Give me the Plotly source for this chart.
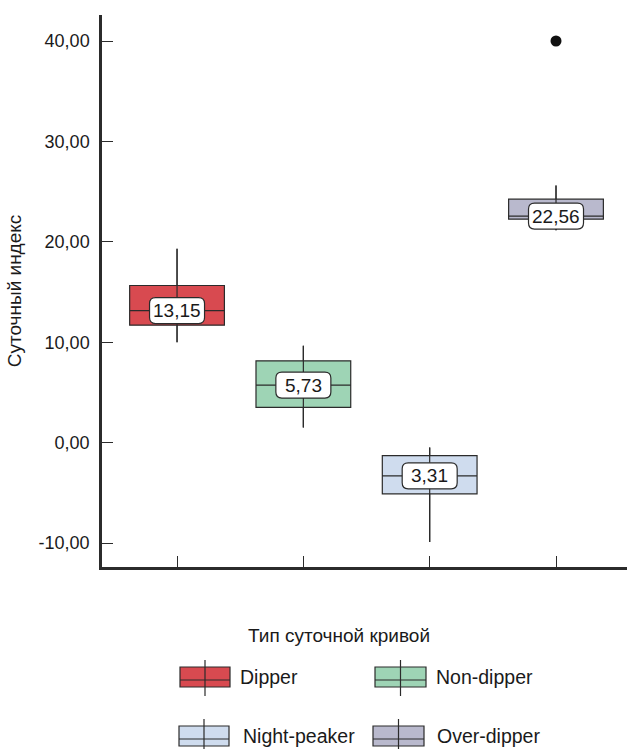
import plotly.graph_objects as go

# ---- data ----
categories = ["Dipper", "Non-dipper", "Night-peaker", "Over-dipper"]
q1 = [11.7, 3.5, -5.1, 22.25]
median = [13.15, 5.73, -3.31, 22.56]
q3 = [15.65, 8.15, -1.3, 24.25]
lower_whisker = [10.0, 1.5, -9.9, 21.15]
upper_whisker = [19.3, 9.65, -0.5, 25.6]
median_labels = ["13,15", "5,73", "3,31", "22,56"]
outlier_cat = ["Over-dipper"]
outlier_val = [40.0]
fill_colors = ["#d84a50", "#9ed4b5", "#cfdcee", "#b9b9cd"]
tick_vals = [-10, 0, 10, 20, 30, 40]
tick_text = ["-10,00", "0,00", "10,00", "20,00", "30,00", "40,00"]
y_title = "Суточный индекс"
legend_title = "Тип суточной кривой"

FONT = "Liberation Sans, Arial, Helvetica, sans-serif"
EDGE = "#2b2b2b"

W, H = 627, 749
ML, MR, MT, MB = 102, 0, 15, 182
PW, PH = W - ML - MR, H - MT - MB


def px(x, y):
    return (x - ML) / PW, (H - MB - y) / PH


fig = go.Figure()

for i, c in enumerate(categories):
    fig.add_trace(go.Box(
        x=[c], q1=[q1[i]], median=[median[i]], q3=[q3[i]],
        lowerfence=[lower_whisker[i]], upperfence=[upper_whisker[i]],
        fillcolor=fill_colors[i], line=dict(color=EDGE, width=1.2),
        whiskerwidth=0, width=0.75, boxpoints=False, showlegend=False,
        name=c,
    ))

for i, c in enumerate(categories):
    fig.add_trace(go.Scatter(
        x=[c, c], y=[lower_whisker[i], upper_whisker[i]], mode="lines",
        line=dict(color=EDGE, width=1.2), showlegend=False, hoverinfo="skip",
    ))

fig.add_trace(go.Scatter(
    x=outlier_cat, y=outlier_val, mode="markers",
    marker=dict(color="#111111", size=11), showlegend=False,
))

# rounded label boxes
w2, h2, r = 27.5, 13, 6
path = (f"M {-w2 + r},{-h2} L {w2 - r},{-h2} Q {w2},{-h2} {w2},{-h2 + r} "
        f"L {w2},{h2 - r} Q {w2},{h2} {w2 - r},{h2} L {-w2 + r},{h2} "
        f"Q {-w2},{h2} {-w2},{h2 - r} L {-w2},{-h2 + r} Q {-w2},{-h2} {-w2 + r},{-h2} Z")
for i, c in enumerate(categories):
    fig.add_shape(type="path", path=path, xref="x", yref="y",
                  xsizemode="pixel", ysizemode="pixel",
                  xanchor=i, yanchor=median[i],
                  fillcolor="white", line=dict(color=EDGE, width=1.2), layer="above")
    fig.add_annotation(x=i, y=median[i], xref="x", yref="y", text=median_labels[i],
                       showarrow=False, yanchor="middle",
                       font=dict(family=FONT, size=19, color="#1a1a1a"))

# custom legend
lt = px(339, 635)
fig.add_annotation(x=lt[0], y=lt[1], xref="paper", yref="paper",
                   text=legend_title, showarrow=False, xanchor="center", yanchor="middle",
                   font=dict(family=FONT, size=19, color="#1a1a1a"))

legend_pos = [(180, 230, 667, 687, 680, 660, 696, 238),
              (375, 426, 667, 687, 680, 660, 696, 434),
              (179, 229, 726, 746, 739, 719, 755, 241),
              (373, 424, 726, 746, 739, 719, 755, 435)]
for i, c in enumerate(categories):
    x0, x1, y0, y1, ym, v0, v1, tx = legend_pos[i]
    a = px(x0, y0); b = px(x1, y1)
    fig.add_shape(type="rect", xref="paper", yref="paper", x0=a[0], x1=b[0], y0=a[1], y1=b[1],
                  fillcolor=fill_colors[i], line=dict(color=EDGE, width=1.2))
    m0 = px(x0, ym); m1 = px(x1, ym)
    fig.add_shape(type="line", xref="paper", yref="paper", x0=m0[0], x1=m1[0], y0=m0[1], y1=m1[1],
                  line=dict(color=EDGE, width=1.2))
    xc = (x0 + x1) / 2
    s0 = px(xc, v0); s1 = px(xc, v1)
    fig.add_shape(type="line", xref="paper", yref="paper", x0=s0[0], x1=s1[0], y0=s0[1], y1=s1[1],
                  line=dict(color=EDGE, width=1.2))
    t = px(tx, (y0 + y1) / 2)
    fig.add_annotation(x=t[0], y=t[1], xref="paper", yref="paper", text=c, showarrow=False,
                       xanchor="left", yanchor="middle",
                       font=dict(family=FONT, size=19.5, color="#1a1a1a"))

fig.update_layout(
    width=W, height=H, margin=dict(l=ML, r=MR, t=MT, b=MB, autoexpand=False),
    plot_bgcolor="white", paper_bgcolor="white", boxmode="overlay",
    font=dict(family=FONT, size=18, color="#1a1a1a"), showlegend=False,
)
fig.update_xaxes(type="category", categoryorder="array", categoryarray=categories,
                 range=[-0.594, 3.562], showticklabels=False, ticks="inside", ticklen=11,
                 tickcolor=EDGE, tickwidth=1.2, showline=True, linecolor=EDGE, linewidth=2.5,
                 showgrid=False, zeroline=False, fixedrange=True)
fig.update_yaxes(range=[-12.39, 42.59], tickvals=tick_vals, ticktext=tick_text,
                 ticks="inside", ticklen=11, tickcolor=EDGE, tickwidth=1.2,
                 showline=True, linecolor=EDGE, linewidth=2.5, showgrid=False, zeroline=False,
                 ticklabelstandoff=6,
                 tickfont=dict(family=FONT, size=18, color="#1a1a1a"),
                 title=dict(text=y_title, standoff=12, font=dict(family=FONT, size=19, color="#1a1a1a")))

fig.write_html("out.html")
